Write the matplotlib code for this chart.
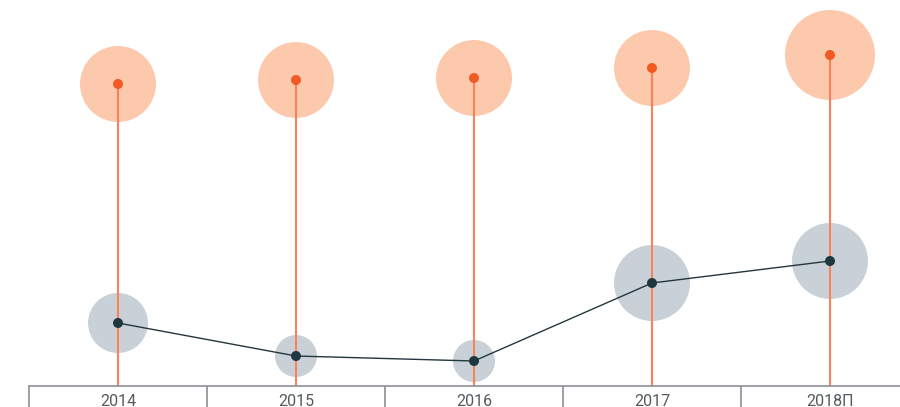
import matplotlib
matplotlib.use('Agg')
import matplotlib.pyplot as plt
import numpy as np

years = ['2014', '2015', '2016', '2017', '2018П']
top_values = [302, 306, 308, 318, 331]
top_radius = [38, 38, 38, 38, 45]
low_values = [63, 30, 25, 103, 125]
low_radius = [30, 21, 21, 38, 38]

DPI = 100


def r_to_s(r):
    # pixel radius -> scatter area in points^2
    return (2 * np.asarray(r) * 72.0 / DPI) ** 2


fig = plt.figure(figsize=(9.0, 4.07), dpi=DPI)
ax = fig.add_axes([29 / 900, 21 / 407, 890 / 900, 386 / 407])
x = np.arange(len(years))

# orange stems from the top dots down to the axis
ax.vlines(x, 0, top_values, color='#f9825a', lw=1.5, zorder=2)

ax.scatter(x, top_values, s=r_to_s(top_radius), color='#fcc9ad',
           edgecolors='none', zorder=1)
ax.scatter(x, top_values, s=r_to_s([5] * 5), color='#f15a22',
           edgecolors='none', zorder=3)

ax.scatter(x, low_values, s=r_to_s(low_radius), color='#c9d1d8',
           edgecolors='none', zorder=1)
ax.plot(x, low_values, color='#24363d', lw=1, zorder=4)
ax.scatter(x, low_values, s=r_to_s([5] * 5), color='#1f3840',
           edgecolors='none', zorder=5)

ax.set_xlim(-0.5, len(years) - 0.5)
ax.set_ylim(0, 386)
for side in ['top', 'left', 'right']:
    ax.spines[side].set_visible(False)
ax.spines['bottom'].set_color('#8c9196')
ax.spines['bottom'].set_linewidth(1.2)
ax.set_yticks([])
ax.set_xticks(x)
ax.set_xticklabels(years, fontsize=11.5, color='#555a5e', family='Roboto')
ax.tick_params(axis='x', which='major', length=0, pad=6)
ax.set_xticks(np.arange(-0.5, len(years)), minor=True)
ax.tick_params(axis='x', which='minor', length=16, width=1.2,
               color='#8c9196', direction='out')

fig.savefig('out.png', dpi=DPI)
